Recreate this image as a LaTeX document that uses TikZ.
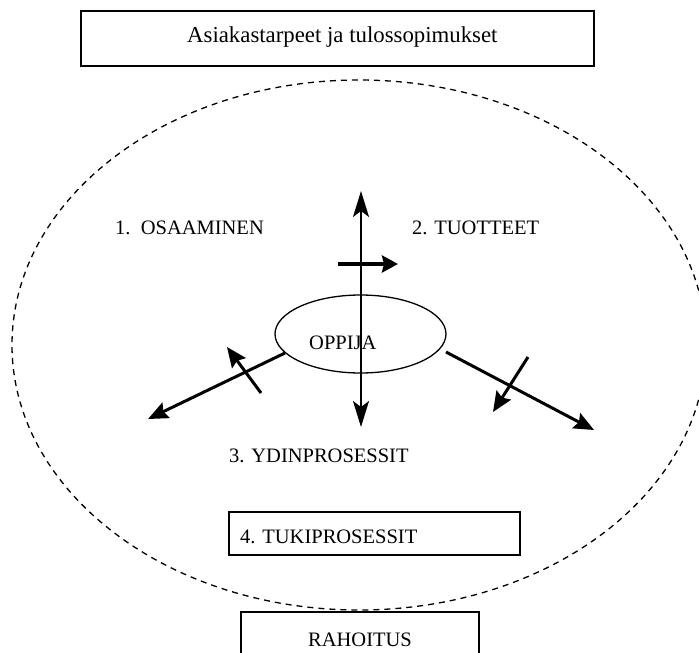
\documentclass[tikz,border=0pt]{standalone}
\usepackage{fontspec}
\setmainfont{Liberation Serif}
\usetikzlibrary{arrows.meta, shapes.geometric}

\begin{document}
\begin{tikzpicture}[x=1pt,y=-1pt,
  box/.style={draw,rectangle,line width=1.5pt,inner sep=0pt},
  lbl/.style={font=\fontsize{20.5}{24}\selectfont,inner sep=0pt,anchor=base west},
  mainline/.style={line width=2pt,
    {Stealth[length=26pt,width=16pt,inset=6pt]}-{Stealth[length=26pt,width=16pt,inset=6pt]}},
  flow/.style={line width=3pt,-{Stealth[length=20pt,width=17pt,inset=3pt]}},
  pusharrow/.style={line width=3.5pt,-{Stealth[length=16pt,width=17pt,inset=2pt]}}]
  \useasboundingbox (0,0) rectangle (699,653);
  \clip (0,0) rectangle (699,653);
  % boxes outside and on the border
  \node[box,minimum width=513pt,minimum height=55pt] (needs) at (337.5,38.5) {};
  \node[lbl,font=\fontsize{22.8}{26}\selectfont] (needstext) at (187,42) {Asiakastarpeet ja tulossopimukset};
  \draw[line width=1.3pt,dash pattern=on 6pt off 5pt] (359,345) ellipse [x radius=347pt, y radius=265pt];
  \node[box,minimum width=291pt,minimum height=43pt] (support) at (374.5,533.5) {};
  \node[lbl] (supporttext) at (240,543) {4. TUKIPROSESSIT};
  \node[box,minimum width=238pt,minimum height=55pt,font=\fontsize{20.5}{24}\selectfont] (funding) at (360,639.5) {RAHOITUS};
  % the four areas
  \node[lbl] (skills) at (115,234) {1.\ \ OSAAMINEN};
  \node[lbl] (products) at (412,234) {2. TUOTTEET};
  \node[lbl] (core) at (229,462) {3. YDINPROSESSIT};
  % learner in the middle
  \node[ellipse,draw,line width=1.3pt,minimum width=171pt,minimum height=78pt,inner sep=0pt] (oppija) at (360.5,334) {};
  \node[lbl] (oppijatext) at (309,349) {OPPIJA};
  \coordinate (upTip) at (361,191);
  \coordinate (downTip) at (361,427);
  \draw[mainline] (downTip) -- (upTip);
  \coordinate (prodStart) at (338,264);
  \coordinate (prodTip) at (398,264);
  \draw[pusharrow] (prodStart) -- (prodTip);
  % left and right branches
  \coordinate (leftStart) at (285,353);
  \coordinate (leftTip) at (148,419);
  \draw[flow] (leftStart) -- (leftTip);
  \coordinate (leftCross) at (261,393);
  \coordinate (leftCrossTip) at (227,347);
  \draw[flow] (leftCross) -- (leftCrossTip);
  \coordinate (rightStart) at (446,352);
  \coordinate (rightTip) at (594,430);
  \draw[flow] (rightStart) -- (rightTip);
  \coordinate (rightCross) at (528,357);
  \coordinate (rightCrossTip) at (493,412);
  \draw[flow] (rightCross) -- (rightCrossTip);
\end{tikzpicture}
\end{document}
